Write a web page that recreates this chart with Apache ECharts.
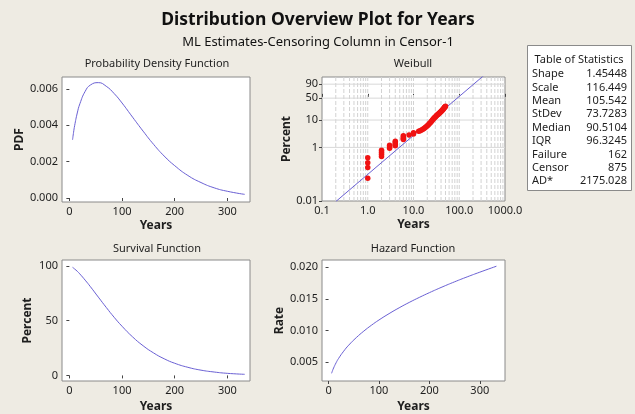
<!DOCTYPE html>
<html>
<head>
<meta charset="utf-8">
<script src="https://cdn.jsdelivr.net/npm/echarts@6/dist/echarts.min.js"></script>
<style>
  html, body { margin: 0; padding: 0; background: #EEEBE3; }
  #chart { width: 635px; height: 414px; }
</style>
</head>
<body>
<div id="chart"></div>
<script>
// Fitted curves sampled along the Years axis
const years = [6, 8, 10, 15, 20, 30, 40, 55, 70, 85, 100, 120, 140, 160, 180, 200, 225, 250, 275, 300, 333];
const pdfValues = [0.00320, 0.00362, 0.00398, 0.00468, 0.00519, 0.00587, 0.00622, 0.00635, 0.00615, 0.00575, 0.00523, 0.00445, 0.00368, 0.00295, 0.00231, 0.00178, 0.00124, 0.00085, 0.00056, 0.00037, 0.00020];
const survivalPct = [98.7, 98.0, 97.2, 95.1, 92.6, 87.0, 81.0, 71.5, 62.1, 53.1, 44.9, 35.2, 27.1, 20.5, 15.2, 11.1, 7.4, 4.8, 3.1, 1.9, 1.0];
const hazardRate = [0.00325, 0.00370, 0.00409, 0.00492, 0.00561, 0.00674, 0.00769, 0.00888, 0.00991, 0.01083, 0.01166, 0.01266, 0.01358, 0.01443, 0.01522, 0.01597, 0.01685, 0.01768, 0.01846, 0.01920, 0.02014];

// Weibull probability plot: observed failures (years, cumulative percent)
const probYears = [1, 1, 1, 1, 2, 2, 2, 2, 3, 3, 3, 4, 4, 4, 4, 6, 6, 6, 6, 8, 10, 10,
  13, 14, 15, 16, 17, 18, 19, 20, 21, 22, 23, 24, 25, 26, 27, 28, 29, 30, 31, 32, 33, 34, 35,
  36, 37, 38, 39, 40, 41, 42, 43, 44, 45, 46, 47, 48, 49, 50];
const probPercent = [0.41, 0.27, 0.177, 0.071, 0.78, 0.66, 0.55, 0.46, 1.2, 1.05, 0.92, 1.7, 1.5, 1.3, 1.15, 2.7, 2.4, 2.15, 1.95, 2.86, 3.1, 3.5,
  3.9, 4.1, 4.4, 4.7, 5.0, 5.4, 5.8, 6.2, 6.7, 7.3, 7.9, 8.6, 9.3, 10.1, 10.8, 11.5, 12.2, 12.9, 13.6, 14.3, 15.0, 15.6, 16.3,
  16.9, 17.6, 18.3, 19.0, 19.8, 20.6, 21.4, 22.2, 23.0, 24.0, 25.0, 26.0, 27.0, 28.0, 29.0];
// Fitted ML line endpoints
const fitYears = [0.2, 400];
const fitPercent = [0.0095, 99.76];

// Axis tick labels
const yearTicks = [0, 100, 200, 300];
const pdfTicks = [0, 0.002, 0.004, 0.006];
const survTicks = [0, 50, 100];
const hazardTicks = [0.005, 0.010, 0.015, 0.020];
const logTicks = [0.1, 1, 10, 100, 1000];
const logTickLabels = ['0.1', '1.0', '10.0', '100.0', '1000.0'];
const pctTicks = [0.01, 1, 10, 50, 90];
const pctTickLabels = ['0.01', '1', '10', '50', '90'];
const pctGrid = [1, 10, 50, 90];

// Statistics table
const statNames = ['Shape', 'Scale', 'Mean', 'StDev', 'Median', 'IQR', 'Failure', 'Censor', 'AD*'];
const statValues = ['1.45448', '116.449', '105.542', '73.7283', '90.5104', '96.3245', '162', '875', '2175.028'];

// Weibull probability scale: ln(-ln(1 - p))
const wb = p => Math.log(-Math.log(1 - p / 100));

const FONT = '"Noto Sans", "DejaVu Sans", sans-serif';
const CURVE = '#6A60D4';
const TXT = '#1e1e1e';

function pairs(xs, ys, f) {
  return xs.map((x, i) => [x, f ? f(ys[i]) : ys[i]]);
}

const gridCommon = { show: true, backgroundColor: '#ffffff', borderColor: '#8a8a8a', borderWidth: 1, containLabel: false };

function valueAxis(gridIndex, min, max, ticks, fmt, extra) {
  return Object.assign({
    type: 'value', gridIndex, min, max,
    axisLine: { show: false },
    axisTick: { show: true, inside: false, length: 3, lineStyle: { color: '#444' }, customValues: ticks },
    axisLabel: { color: TXT, fontSize: 11, fontFamily: FONT, margin: 4, customValues: ticks, formatter: fmt },
    splitLine: { show: false }
  }, extra || {});
}

const xName = { name: 'Years', nameLocation: 'middle', nameGap: 18, nameTextStyle: { color: TXT, fontWeight: 'bold', fontSize: 12, fontFamily: FONT } };
function yName(name, gap) {
  return { name, nameLocation: 'middle', nameGap: gap, nameRotate: 90, nameTextStyle: { color: TXT, fontWeight: 'bold', fontSize: 12, fontFamily: FONT } };
}

const wMin = wb(0.01);
const wMax = 1.45;

// Weibull reference grid: vertical lines at every log step, horizontal lines at chosen percents.
// Each line is a two-point segment; '-' entries break the polyline between segments.
const vGridData = [];
[0.1, 1, 10, 100].forEach(d => {
  for (let m = 1; m <= 9; m++) {
    if (d === 0.1 && m === 1) continue;
    vGridData.push([d * m, wMin], [d * m, wMax], ['-', '-']);
  }
});
const hGridData = [];
pctGrid.forEach(p => hGridData.push([0.1, wb(p)], [1000, wb(p)], ['-', '-']));

const graphics = [
  { type: 'text', x: 318, y: 20, style: { text: 'Distribution Overview Plot for Years', font: 'bold 17.5px ' + FONT, fill: '#111', align: 'center', verticalAlign: 'middle' } },
  { type: 'text', x: 318, y: 42, style: { text: 'ML Estimates-Censoring Column in Censor-1', font: '13px ' + FONT, fill: '#111', align: 'center', verticalAlign: 'middle' } },
  { type: 'text', x: 157, y: 64, style: { text: 'Probability Density Function', font: '11px ' + FONT, fill: TXT, align: 'center', verticalAlign: 'middle' } },
  { type: 'text', x: 413, y: 64, style: { text: 'Weibull', font: '11px ' + FONT, fill: TXT, align: 'center', verticalAlign: 'middle' } },
  { type: 'text', x: 157, y: 249, style: { text: 'Survival Function', font: '11px ' + FONT, fill: TXT, align: 'center', verticalAlign: 'middle' } },
  { type: 'text', x: 413, y: 249, style: { text: 'Hazard Function', font: '11px ' + FONT, fill: TXT, align: 'center', verticalAlign: 'middle' } },
  { type: 'rect', shape: { x: 527.5, y: 45.5, width: 104, height: 145 }, style: { fill: '#ffffff', stroke: '#8a8a8a', lineWidth: 1 } },
  { type: 'text', x: 579, y: 60, style: { text: 'Table of Statistics', font: '11px ' + FONT, fill: TXT, align: 'center', verticalAlign: 'middle' } }
];
statNames.forEach((n, i) => {
  const y = 74 + i * 13.4;
  graphics.push({ type: 'text', x: 532, y, style: { text: n, font: '11px ' + FONT, fill: TXT, align: 'left', verticalAlign: 'middle' } });
  graphics.push({ type: 'text', x: 627, y, style: { text: statValues[i], font: '11px ' + FONT, fill: TXT, align: 'right', verticalAlign: 'middle' } });
});

const option = {
  backgroundColor: '#EEEBE3',
  animation: false,
  grid: [
    Object.assign({ left: 62, top: 77, width: 188, height: 125 }, gridCommon),
    Object.assign({ left: 322, top: 77, width: 183, height: 124 }, gridCommon),
    Object.assign({ left: 62, top: 260, width: 188, height: 123 }, gridCommon),
    Object.assign({ left: 322, top: 260, width: 183, height: 124 }, gridCommon)
  ],
  xAxis: [
    valueAxis(0, -14, 343, yearTicks, v => String(v), xName),
    Object.assign({
      type: 'log', logBase: 10, gridIndex: 1, min: 0.1, max: 1000,
      axisLine: { show: false },
      axisTick: { show: true, inside: false, length: 3, lineStyle: { color: '#444' }, customValues: logTicks },
      axisLabel: { color: TXT, fontSize: 11, fontFamily: FONT, margin: 4, customValues: logTicks,
        formatter: v => logTickLabels[logTicks.findIndex(t => Math.abs(Math.log10(t) - Math.log10(v)) < 1e-6)] || '' },
      splitLine: { show: false }, minorTick: { show: false }
    }, xName),
    valueAxis(2, -14, 343, yearTicks, v => String(v), Object.assign({}, xName, { nameGap: 20 })),
    valueAxis(3, -13, 350, yearTicks, v => String(v), Object.assign({}, xName, { nameGap: 20 }))
  ],
  yAxis: [
    valueAxis(0, -0.00022, 0.00666, pdfTicks, v => v.toFixed(3), yName('PDF', 36)),
    valueAxis(1, wMin, wMax, pctTicks.map(wb), v => {
      let best = 0, bd = Infinity;
      pctTicks.forEach((p, i) => { const d = Math.abs(wb(p) - v); if (d < bd) { bd = d; best = i; } });
      return pctTickLabels[best];
    }, yName('Percent', 27)),
    valueAxis(2, -5.1, 105.4, survTicks, v => String(v), yName('Percent', 28)),
    valueAxis(3, 0.00204, 0.02112, hazardTicks, v => v.toFixed(3), yName('Rate', 36))
  ],
  graphic: graphics,
  series: [
    { type: 'line', xAxisIndex: 0, yAxisIndex: 0, data: pairs(years, pdfValues), smooth: true, showSymbol: false,
      lineStyle: { color: CURVE, width: 1 } },
    { type: 'line', xAxisIndex: 1, yAxisIndex: 1, data: vGridData, showSymbol: false, silent: true, z: 1,
      connectNulls: false, lineStyle: { color: '#d2d2d2', width: 1, type: [4, 2] } },
    { type: 'line', xAxisIndex: 1, yAxisIndex: 1, data: hGridData, showSymbol: false, silent: true, z: 1,
      connectNulls: false, lineStyle: { color: '#d8d8d8', width: 1 } },
    { type: 'line', xAxisIndex: 1, yAxisIndex: 1, data: pairs(fitYears, fitPercent, wb), showSymbol: false, clip: true, z: 3,
      lineStyle: { color: CURVE, width: 1 } },
    { type: 'scatter', xAxisIndex: 1, yAxisIndex: 1, data: pairs(probYears, probPercent, wb), symbol: 'circle', symbolSize: 5.5, z: 4,
      itemStyle: { color: '#F01212', opacity: 1, borderWidth: 0 } },
    { type: 'line', xAxisIndex: 2, yAxisIndex: 2, data: pairs(years, survivalPct), smooth: true, showSymbol: false,
      lineStyle: { color: CURVE, width: 1 } },
    { type: 'line', xAxisIndex: 3, yAxisIndex: 3, data: pairs(years, hazardRate), smooth: true, showSymbol: false,
      lineStyle: { color: CURVE, width: 1 } }
  ]
};

echarts.init(document.getElementById('chart'), null, { renderer: 'canvas' }).setOption(option);
</script>
</body>
</html>
